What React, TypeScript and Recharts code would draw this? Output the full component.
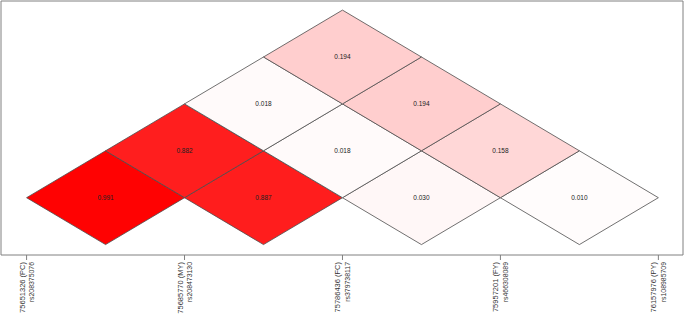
import React from "react";
import {
  ComposedChart,
  Area,
  Scatter,
  XAxis,
  YAxis,
  ReferenceArea,
} from "recharts";

// SNP markers (x-axis ticks)
const snpIndex = [0, 1, 2, 3, 4];
const snpPositions = [
  "75651326 (PC)",
  "75685770 (MY)",
  "75786436 (FC)",
  "75957201 (FY)",
  "76157976 (PY)",
];
const snpIds = [
  "rs208375076",
  "rs208473130",
  "rs379738117",
  "rs466308089",
  "rs108985709",
];

// pairwise LD cells
const cellFirst = [0, 1, 2, 3, 0, 1, 2, 0, 1, 0];
const cellSecond = [1, 2, 3, 4, 2, 3, 4, 3, 4, 4];
const cellR2 = [0.991, 0.887, 0.03, 0.01, 0.882, 0.018, 0.158, 0.018, 0.194, 0.194];

const X_DOMAIN: [number, number] = [-0.162, 4.156];
const Y_DOMAIN: [number, number] = [-1.222, 4.194];

const ldColor = (v: number) => {
  const g = Math.round(255 * (1 - v));
  return `rgb(255,${g},${g})`;
};

const cells = cellR2.map((v, k) => {
  const i = cellFirst[k];
  const j = cellSecond[k];
  const cx = (snpIndex[i] + snpIndex[j]) / 2;
  const cy = j - i - 1;
  return {
    key: `${i}-${j}`,
    value: v,
    x: cx,
    y: cy,
    label: v.toFixed(3),
    shape: [
      { x: cx - 0.5, band: [cy, cy] },
      { x: cx, band: [cy - 1, cy + 1] },
      { x: cx + 0.5, band: [cy, cy] },
    ],
  };
});

const FONT = "'Liberation Sans', Arial, Helvetica, sans-serif";

const SnpTick = (props: any) => {
  const { x, y, payload } = props;
  const idx = payload.value as number;
  return (
    <g transform={`translate(${x},${y})`}>
      <text
        transform="rotate(-90)"
        x={0}
        y={-2}
        textAnchor="end"
        fontFamily={FONT}
        fontSize={7.5}
        fill="#333"
      >
        {snpPositions[idx]}
      </text>
      <text
        transform="rotate(-90)"
        x={0}
        y={7.2}
        textAnchor="end"
        fontFamily={FONT}
        fontSize={6.9}
        fill="#333"
      >
        {snpIds[idx]}
      </text>
    </g>
  );
};

const CellLabel = (props: any) => {
  const { cx, cy, payload } = props;
  return (
    <text
      x={cx}
      y={cy}
      textAnchor="middle"
      dominantBaseline="central"
      fontFamily={FONT}
      fontSize={6.5}
      fill="#222"
    >
      {payload.label}
    </text>
  );
};

export default function App() {
  return (
    <div style={{ position: "absolute", left: 0, top: 0, background: "#fff" }}>
      <ComposedChart
        width={685}
        height={314}
        margin={{ top: 1, right: 2, bottom: 1, left: 1 }}
      >
        <XAxis
          type="number"
          dataKey="x"
          domain={X_DOMAIN}
          allowDataOverflow
          ticks={snpIndex}
          interval={0}
          axisLine={false}
          tickLine={{ stroke: "#808080" }}
          tickSize={5}
          tickMargin={2}
          height={58}
          tick={<SnpTick />}
        />
        <YAxis type="number" dataKey="y" domain={Y_DOMAIN} allowDataOverflow hide />
        {cells.map((c) => (
          <Area
            key={c.key}
            data={c.shape}
            dataKey="band"
            type="linear"
            fill={ldColor(c.value)}
            fillOpacity={1}
            stroke="#4d4d4d"
            strokeWidth={0.8}
            dot={false}
            activeDot={false}
            isAnimationActive={false}
          />
        ))}
        <Scatter
          data={cells.map((c) => ({ x: c.x, y: c.y, label: c.label }))}
          shape={<CellLabel />}
          isAnimationActive={false}
        />
        <ReferenceArea
          x1={X_DOMAIN[0]}
          x2={X_DOMAIN[1]}
          y1={Y_DOMAIN[0]}
          y2={Y_DOMAIN[1]}
          fill="none"
          stroke="#808080"
          strokeWidth={1}
          ifOverflow="visible"
        />
      </ComposedChart>
    </div>
  );
}
